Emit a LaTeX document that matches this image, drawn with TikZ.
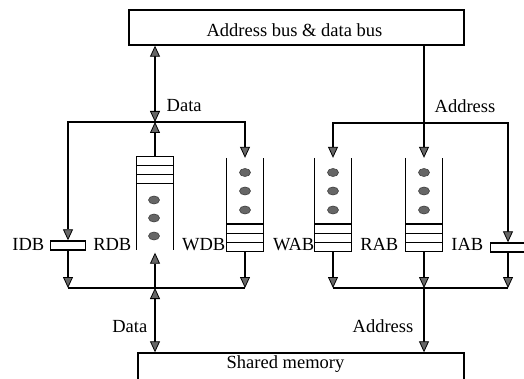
\documentclass[tikz,border=0pt]{standalone}
\usepackage{fontspec}
\setmainfont{Liberation Serif}
\usetikzlibrary{arrows.meta}
\begin{document}
\begin{tikzpicture}[x=1pt,y=-1pt,
  line width=1.4pt,
  >={Triangle[width=10pt,length=11pt,fill=gray!80!black,line width=0.8pt]},
  box/.style={draw,rectangle,inner sep=0pt},
  txt/.style={font=\fontsize{18.5}{22}\selectfont,inner sep=0pt},
  fifo/.style={rectangle,inner sep=0pt,minimum width=36pt,minimum height=92pt},
  reg/.style={draw,rectangle,inner sep=0pt,minimum width=35pt,minimum height=9pt},
  dot/.style={fill=gray!80!black,draw=gray!50!black,line width=0.6pt}]
\clip (0,0) rectangle (524,379);

% buses
\node[box,minimum width=335pt,minimum height=35pt] (bus) at (296.5,27.5) {};
\node[txt,anchor=base] (bustext) at (294.5,37) {Address bus \& data bus};
\node[box,minimum width=326pt,minimum height=60pt] (mem) at (301,383) {};
\node[txt,anchor=base] (memtext) at (285.5,368) {Shared memory};

% buffers
\node[fifo] (rdb) at (155,203) {};
\node[fifo] (wdb) at (245,204.5) {};
\node[fifo] (wab) at (333,204.5) {};
\node[fifo] (rab) at (424,204.5) {};
\node[reg] (idb) at (68,245.5) {};
\node[reg] (iab) at (508,247.5) {};

% read data buffer: cells on top, open bottom
\draw (rdb.south west) -- (rdb.north west) -- (rdb.north east) -- (rdb.south east);
\foreach \k in {9,18,27}
  \draw ([yshift=-\k pt]rdb.north west) -- ([yshift=-\k pt]rdb.north east);
\foreach \d in {3,-15,-33}
  \filldraw[dot] ([xshift=-1pt,yshift=\d pt]rdb.center) ellipse [x radius=5.5pt,y radius=4pt];

% write/read buffers: open top, cells at the bottom
\foreach \f in {wdb,wab,rab} {
  \draw (\f.north west) -- (\f.south west) -- (\f.south east) -- (\f.north east);
  \foreach \k in {9,18,27}
    \draw ([yshift=\k pt]\f.south west) -- ([yshift=\k pt]\f.south east);
  \foreach \d in {32,13.5,-5.5}
    \filldraw[dot] ([yshift=\d pt]\f.center) ellipse [x radius=5.5pt,y radius=4pt];
}

% labels
\node[txt,anchor=base east] (lidb) at (45,251) {IDB};
\node[txt,anchor=base east] (lrdb) at (132,251) {RDB};
\node[txt,anchor=base east] (lwdb) at (226,251) {WDB};
\node[txt,anchor=base east] (lwab) at (315,251) {WAB};
\node[txt,anchor=base east] (lrab) at (399,251) {RAB};
\node[txt,anchor=base east] (liab) at (484,251) {IAB};
\node[txt,anchor=base west] (ldata1) at (166,112) {Data};
\node[txt,anchor=base west] (laddr1) at (434,113) {Address};
\node[txt,anchor=base east] (ldata2) at (148,332) {Data};
\node[txt,anchor=base east] (laddr2) at (414,332) {Address};

% data path
\coordinate (dtop) at (155,122);
\coordinate (dbot) at (155,288);
\draw[<->] (bus.south -| dtop) -- (dtop);
\draw[->] (rdb.north) -- (dtop);
\draw[->] (dtop) -| (idb.north);
\draw[->] (dtop) -| (wdb.north);
\draw[->] (idb.south) -- (idb.south |- dbot);
\draw[->] (wdb.south) -- (wdb.south |- dbot);
\draw (idb.south |- dbot) -- (wdb.south |- dbot);
\draw[->,shorten >=3pt] (dbot) -- (rdb.south);
\draw[<->] (dbot) -- (mem.north -| dbot);

% address path
\coordinate (atop) at (424,123);
\coordinate (abot) at (424,288);
\draw[->] (bus.south -| rab.north) -- (rab.north);
\draw[->] (atop) -| (wab.north);
\draw[->] (atop) -| (iab.north);
\draw[->] (wab.south) -- (wab.south |- abot);
\draw[->] (rab.south) -- (rab.south |- abot);
\draw[->] (iab.south) -- (iab.south |- abot);
\draw (wab.south |- abot) -- (iab.south |- abot);
\draw[->] (abot) -- (mem.north -| abot);
\end{tikzpicture}
\end{document}
